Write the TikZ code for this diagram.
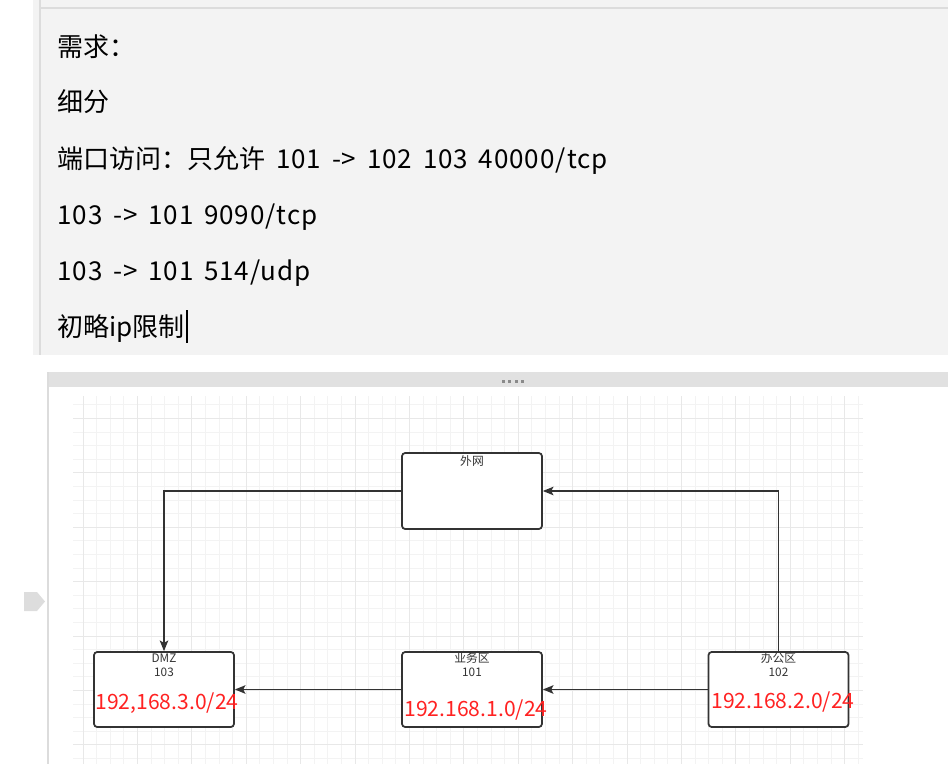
\documentclass[tikz,border=0pt]{standalone}
\usepackage{fontspec}
\setmainfont{Noto Sans CJK SC}
\newfontfamily\latinpart{Noto Sans CJK SC}[LetterSpace=3.5,WordSpace=1.6]
\usetikzlibrary{positioning,arrows.meta}
\definecolor{panelbg}{HTML}{F3F3F3}
\definecolor{panelline}{HTML}{DCDCDC}
\definecolor{barbg}{HTML}{E1E1E1}
\definecolor{tabgray}{HTML}{DDDDDD}
\definecolor{dotgray}{HTML}{8A8A8A}
\definecolor{gridminor}{HTML}{F3F3F3}
\definecolor{gridmajor}{HTML}{E8E8E8}
\definecolor{boxline}{HTML}{333333}
\definecolor{ipred}{HTML}{FF2222}

\begin{document}
\begin{tikzpicture}[x=0.02cm,y=-0.02cm,>={Stealth[length=6pt,width=4.8pt,inset=1.2pt]},
		note/.style={anchor=base west,inner sep=0pt,font=\fontsize{14.8pt}{14.8pt}\selectfont},
		zone/.style={draw=boxline,line width=1pt,rounded corners=1.8pt,fill=white,minimum width=2.8cm,minimum height=1.5cm,inner sep=0pt},
		zonetxt/.style={inner sep=0pt,text=boxline,font=\fontsize{6.7pt}{6.7pt}\selectfont},
		iptxt/.style={inner sep=0pt,text=ipred,font=\fontsize{12pt}{12pt}\selectfont},
		link/.style={draw=boxline,line width=0.9pt},
		gridline/.style={line width=0.57pt}]
			
			\useasboundingbox (0,0) rectangle (948,764);
			
			\fill[panelbg] (33,0) rectangle (948,355);
			\draw[panelline,line width=0.6pt] (40,0) -- (40,355);
			\draw[panelline,line width=0.6pt] (40,8) -- (948,8);
			
			\node[note] (need) at (57,56){需求：};
			\node[note] (fine) at (57,112){细分};
			\node[note] (port) at (57,168){端口访问：只允许{\latinpart{} 101 -> 102 103 40000/tcp}};
			\node[note] (tcp) at (57,224){\latinpart 103 -> 101 9090/tcp};
			\node[note] (udp) at (57,280){\latinpart 103 -> 101 514/udp};
			\node[note] (iplimit) at (57,336){初略ip限制};
			\draw[black,line width=0.6pt] (187,310) -- (187,343);
			
			\fill[barbg] (48,372) rectangle (948,387);
			\foreach \dx in {503,509.5,516,522.5}
			{
				\fill[dotgray] (\dx-1.5,379.5) rectangle (\dx+1.5,382.5);
			}
			\draw[panelline,line width=0.6pt] (48,372) -- (48,764);
			\fill[tabgray] (24,592) -- (37,592) -- (45,601.5) -- (37,611) -- (24,611) -- cycle;
			
			\begin{scope}
				\clip (73,396) rectangle (863,764);
				\foreach \k in {0,...,57}
				{
					\pgfmathsetmacro\gx{round(82.6+13.6*\k)+0.5}
					\draw[gridline,gridminor] (\gx,396) -- (\gx,764);
				}
				\foreach \k in {0,...,26}
				{
					\pgfmathsetmacro\gy{round(404.4+13.6*\k)+0.5}
					\draw[gridline,gridminor] (73,\gy) -- (863,\gy);
				}
				\foreach \k in {0,...,14}
				{
					\pgfmathsetmacro\gx{round(82.6+54.4*\k)+0.5}
					\draw[gridline,gridmajor] (\gx,396) -- (\gx,764);
				}
				\foreach \k in {0,...,6}
				{
					\pgfmathsetmacro\gy{round(418+54.4*\k)+0.5}
					\draw[gridline,gridmajor] (73,\gy) -- (863,\gy);
				}
			\end{scope}
			
			\node[zone,minimum height=1.52cm] (wan) at (472,491){};
			\node[zone] (dmz) at (164,689.5){};
			\node[zone] (yewu) at (472,689.5){};
			\node[zone] (bangong) at (778.5,689.5){};
			
			\node[zonetxt] (wanname) at ([yshift=-5pt]wan.north){外网};
			\node[zonetxt] (dmzname) at ([yshift=-4pt]dmz.north){DMZ};
			\node[zonetxt] (dmzno) at ([yshift=-12pt]dmz.north){103};
			\node[zonetxt] (yewuname) at ([yshift=-4pt]yewu.north){业务区};
			\node[zonetxt] (yewuno) at ([yshift=-12pt]yewu.north){101};
			\node[zonetxt] (bangongname) at ([yshift=-4pt]bangong.north){办公区};
			\node[zonetxt] (bangongno) at ([yshift=-12pt]bangong.north){102};
			
			\node[iptxt] (dmzip) at (167,703){192,168.3.0/24};
			\node[iptxt] (yewuip) at (476,710){192.168.1.0/24};
			\node[iptxt] (bangongip) at (783,702){192.168.2.0/24};
			
			\draw[link,->] (wan.west) -| (dmz.north);
			\draw[link,->] (bangong.north) |- (wan.east);
			\draw[link,->] (yewu.west) -- (dmz.east);
			\draw[link,->] (bangong.west) -- (yewu.east);
			
		\end{tikzpicture}
\end{document}
